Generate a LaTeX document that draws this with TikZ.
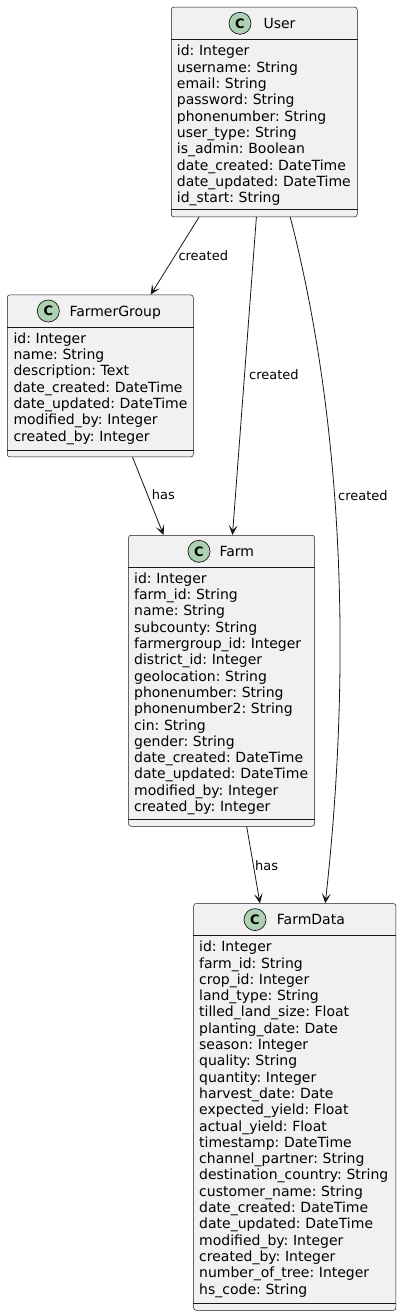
\documentclass[tikz,border=0pt]{standalone}
\usepackage{fontspec}
\setmainfont{DejaVu Sans}
\frenchspacing
\usetikzlibrary{arrows.meta}
\definecolor{boxfill}{HTML}{F1F1F1}
\definecolor{ink}{HTML}{181818}
\definecolor{cfill}{HTML}{ADD1B2}
\begin{document}
\begin{tikzpicture}[x=1pt,y=-1pt,
  cls/.style={draw=ink, fill=boxfill, line width=0.5pt, rounded corners=2.5pt, inner sep=0pt, anchor=north west},
  badge/.style={circle, draw=ink, fill=cfill, line width=0.7pt, minimum size=22pt, inner sep=0pt, font=\fontsize{13}{13}\selectfont\bfseries},
  cname/.style={anchor=base west, inner sep=0pt, font=\fontsize{14}{16}\selectfont},
  attrs/.style={anchor=base west, inner sep=0pt, text width=210pt, align=left, font=\fontsize{14}{16.3}\selectfont\frenchspacing},
  sepline/.style={draw=ink, line width=0.4pt},
  rel/.style={draw=ink, line width=0.8pt, -{Stealth[length=10pt,width=9pt,inset=5pt]}},
  lbl/.style={anchor=west, inner sep=0pt, font=\fontsize{13}{15}\selectfont}
]
\useasboundingbox[fill=white] (0,0) rectangle (401,1316);

% ---- User
\node[cls, minimum width=186pt, minimum height=209.5pt] (user) at (171,7) {};
\draw[sepline] ([yshift=-32pt]user.north west) -- ([yshift=-32pt]user.north east);
\draw[sepline] ([yshift=7.5pt]user.south west) -- ([yshift=7.5pt]user.south east);
\node[badge] (userC) at (240,23.3) {C};
\node[cname] (userN) at (263.3,28.3) {User};
\node[attrs] (userA) at (176.7,56) {id: Integer\\username: String\\email: String\\password: String\\phonenumber: String\\user\_type: String\\is\_admin: Boolean\\date\_created: DateTime\\date\_updated: DateTime\\id\_start: String};

% ---- FarmerGroup
\node[cls, minimum width=186pt, minimum height=162pt] (fg) at (7,294.7) {};
\draw[sepline] ([yshift=-32pt]fg.north west) -- ([yshift=-32pt]fg.north east);
\draw[sepline] ([yshift=7.5pt]fg.south west) -- ([yshift=7.5pt]fg.south east);
\node[badge] (fgC) at (48.3,311) {C};
\node[cname] (fgN) at (69.3,316) {FarmerGroup};
\node[attrs] (fgA) at (13.3,343.3) {id: Integer\\name: String\\description: Text\\date\_created: DateTime\\date\_updated: DateTime\\modified\_by: Integer\\created\_by: Integer};

% ---- Farm
\node[cls, minimum width=186pt, minimum height=291pt] (farm) at (128.3,535) {};
\draw[sepline] ([yshift=-32pt]farm.north west) -- ([yshift=-32pt]farm.north east);
\draw[sepline] ([yshift=7.5pt]farm.south west) -- ([yshift=7.5pt]farm.south east);
\node[badge] (farmC) at (199,551.3) {C};
\node[cname] (farmN) at (219.3,556.3) {Farm};
\node[attrs] (farmA) at (134,583.3) {id: Integer\\farm\_id: String\\name: String\\subcounty: String\\farmergroup\_id: Integer\\district\_id: Integer\\geolocation: String\\phonenumber: String\\phonenumber2: String\\cin: String\\gender: String\\date\_created: DateTime\\date\_updated: DateTime\\modified\_by: Integer\\created\_by: Integer};

% ---- FarmData
\node[cls, minimum width=202.4pt, minimum height=406.7pt] (fd) at (193.3,903.3) {};
\draw[sepline] ([yshift=-32pt]fd.north west) -- ([yshift=-32pt]fd.north east);
\draw[sepline] ([yshift=7.5pt]fd.south west) -- ([yshift=7.5pt]fd.south east);
\node[badge] (fdC) at (255,919.6) {C};
\node[cname] (fdN) at (276.7,924.6) {FarmData};
\node[attrs] (fdA) at (199,951.7) {id: Integer\\farm\_id: String\\crop\_id: Integer\\land\_type: String\\tilled\_land\_size: Float\\planting\_date: Date\\season: Integer\\quality: String\\quantity: Integer\\harvest\_date: Date\\expected\_yield: Float\\actual\_yield: Float\\timestamp: DateTime\\channel\_partner: String\\destination\_country: String\\customer\_name: String\\date\_created: DateTime\\date\_updated: DateTime\\modified\_by: Integer\\created\_by: Integer\\number\_of\_tree: Integer\\hs\_code: String};

% ---- relations
\draw[rel] (user) -- (fg);
\draw[rel] (user) -- (farm);
\draw[rel] ([xshift=26pt]user.south) .. controls (350,450) and (348,700) .. ([xshift=30.5pt]fd.north);
\draw[rel] (fg) -- (farm);
\draw[rel] (farm) -- (fd);

\node[lbl] (l1) at (178.3,256) {created};
\node[lbl] (l2) at (249,375) {created};
\node[lbl] (l3) at (338,496) {created};
\node[lbl] (l4) at (151.7,495) {has};
\node[lbl] (l5) at (255,866) {has};
\end{tikzpicture}
\end{document}
